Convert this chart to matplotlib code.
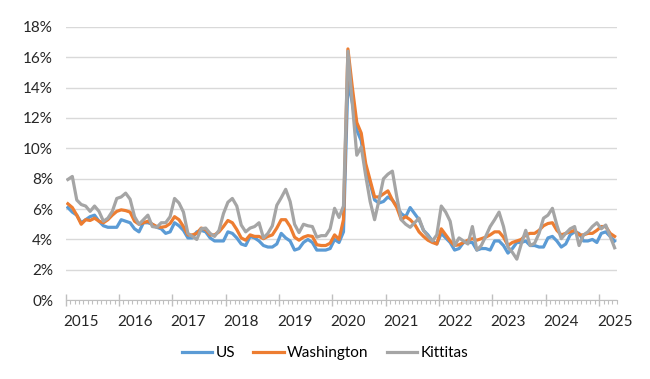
# Unemployment rate, US vs Washington vs Kittitas County (monthly, not seasonally adjusted)
import matplotlib.pyplot as plt
import numpy as np

plt.rcParams['font.family'] = ['Lato', 'DejaVu Sans']

# Jan 2015 .. Apr 2025, percent
us = [6.1, 5.8, 5.6, 5.1, 5.3, 5.5, 5.6, 5.2, 4.9, 4.8, 4.8, 4.8,
      5.3, 5.2, 5.1, 4.7, 4.5, 5.1, 5.1, 5.0, 4.8, 4.7, 4.4, 4.5,
      5.1, 4.9, 4.6, 4.1, 4.1, 4.5, 4.6, 4.5, 4.1, 3.9, 3.9, 3.9,
      4.5, 4.4, 4.1, 3.7, 3.6, 4.2, 4.1, 3.9, 3.6, 3.5, 3.5, 3.7,
      4.4, 4.1, 3.9, 3.3, 3.4, 3.8, 4.0, 3.8, 3.3, 3.3, 3.3, 3.4,
      4.0, 3.8, 4.5, 14.4, 13.0, 11.2, 10.5, 8.5, 7.7, 6.6, 6.4, 6.5,
      6.8, 6.6, 6.2, 5.7, 5.5, 6.1, 5.7, 5.3, 4.6, 4.3, 3.9, 3.7,
      4.4, 4.1, 3.8, 3.3, 3.4, 3.8, 3.8, 3.8, 3.3, 3.4, 3.4, 3.3,
      3.9, 3.9, 3.6, 3.1, 3.4, 3.8, 3.8, 3.9, 3.6, 3.6, 3.5, 3.5,
      4.1, 4.2, 3.9, 3.5, 3.7, 4.3, 4.5, 4.4, 3.9, 3.9, 4.0, 3.8,
      4.4, 4.5, 4.2, 3.9]

washington = [6.35, 6.1, 5.6, 5.0, 5.3, 5.25, 5.4, 5.2, 5.1, 5.3, 5.6, 5.85,
              5.95, 5.9, 5.8, 5.2, 5.0, 5.1, 5.2, 5.0, 4.85, 4.8, 4.85, 5.05,
              5.5, 5.3, 4.85, 4.3, 4.3, 4.4, 4.75, 4.65, 4.3, 4.3, 4.5, 4.85,
              5.25, 5.1, 4.65, 4.1, 3.95, 4.3, 4.2, 4.2, 4.05, 4.2, 4.3, 4.75,
              5.3, 5.3, 4.85, 4.15, 3.95, 4.15, 4.25, 4.2, 3.65, 3.6, 3.6, 3.75,
              4.3, 4.0, 5.3, 16.55, 14.0, 11.7, 11.0, 9.0, 7.9, 6.8, 6.8, 7.0,
              7.2, 6.6, 6.1, 5.3, 5.5, 5.3, 5.0, 4.5, 4.2, 3.95, 3.8, 3.7,
              4.7, 4.3, 3.9, 3.6, 3.65, 3.8, 3.95, 4.05, 3.95, 4.05, 4.15, 4.3,
              4.5, 4.5, 4.15, 3.6, 3.8, 3.9, 4.0, 4.3, 4.4, 4.4, 4.6, 4.9,
              5.05, 5.1, 4.6, 4.3, 4.4, 4.5, 4.6, 4.3, 4.3, 4.4, 4.4, 4.6,
              4.85, 4.85, 4.4, 4.2]

kittitas = [7.95, 8.15, 6.6, 6.3, 6.2, 5.85, 6.2, 5.85, 5.2, 5.4, 5.85, 6.7,
            6.8, 7.05, 6.65, 5.5, 5.0, 5.3, 5.6, 4.85, 4.8, 5.1, 5.1, 5.5,
            6.7, 6.4, 5.8, 4.4, 4.2, 4.0, 4.7, 4.75, 4.4, 4.2, 4.6, 5.7,
            6.45, 6.7, 6.2, 4.95, 4.5, 4.75, 4.85, 5.1, 4.1, 4.4, 4.9, 6.25,
            6.75, 7.3, 6.5, 5.0, 4.45, 5.0, 4.9, 4.85, 4.15, 4.25, 4.25, 4.7,
            6.05, 5.45, 6.2, 16.4, 12.9, 9.55, 10.1, 8.2, 6.5, 5.3, 6.6, 8.0,
            8.3, 8.5, 6.8, 5.3, 5.0, 4.8, 5.1, 5.4, 4.6, 4.2, 3.9, 4.3,
            6.2, 5.8, 5.2, 3.6, 4.1, 3.9, 3.7, 4.85, 3.3, 3.6, 4.2, 4.85,
            5.3, 5.8, 4.85, 3.5, 3.15, 2.7, 3.7, 4.6, 3.6, 3.75, 4.4, 5.4,
            5.6, 6.05, 4.95, 4.05, 4.4, 4.7, 4.85, 3.6, 4.3, 4.5, 4.85, 5.1,
            4.7, 4.95, 4.2, 3.45]

years = list(range(2015, 2026))

months = np.arange(len(us))

fig, ax = plt.subplots(figsize=(6.5, 3.79), dpi=100)
fig.subplots_adjust(left=0.101, right=0.949, bottom=0.208, top=0.929)

ax.plot(months, us, color='#5B9BD5', lw=2.3, label='US', solid_joinstyle='round')
ax.plot(months, washington, color='#ED7D31', lw=2.3, label='Washington', solid_joinstyle='round')
ax.plot(months, kittitas, color='#A5A5A5', lw=2.3, label='Kittitas', solid_joinstyle='round')

# y axis
ax.set_ylim(0, 18)
ax.set_yticks(range(0, 19, 2))
ax.set_yticklabels([f'{v}%' for v in range(0, 19, 2)])
ax.tick_params(axis='y', length=0, pad=9, labelsize=11, labelcolor='#262626')
ax.grid(axis='y', color='#D9D9D9', lw=1)
ax.set_axisbelow(True)

# x axis: year boundaries as major ticks, months as minor
ax.set_xlim(-0.5, len(us) - 0.5)
ax.set_xticks([12 * k - 0.5 for k in range(len(years))])
ax.set_xticklabels([])
ax.set_xticks(np.arange(-0.5, len(us)), minor=True)
ax.tick_params(axis='x', which='major', direction='inout', length=8, width=1, color='#BFBFBF')
ax.tick_params(axis='x', which='minor', direction='out', length=3, width=0.8, color='#BFBFBF')
for k, yr in enumerate(years):
    ax.text(12 * k + 3, -0.08, str(yr), transform=ax.get_xaxis_transform(),
            ha='center', va='center', fontsize=11, color='#262626')

for s in ['top', 'right', 'left']:
    ax.spines[s].set_visible(False)
ax.spines['bottom'].set_color('#BFBFBF')

fig.legend(loc='center', bbox_to_anchor=(0.5, 0.069), ncol=3, frameon=False,
           fontsize=11, handlelength=2.0, handletextpad=0.2, columnspacing=1.2)

fig.savefig('out.png', dpi=100)
